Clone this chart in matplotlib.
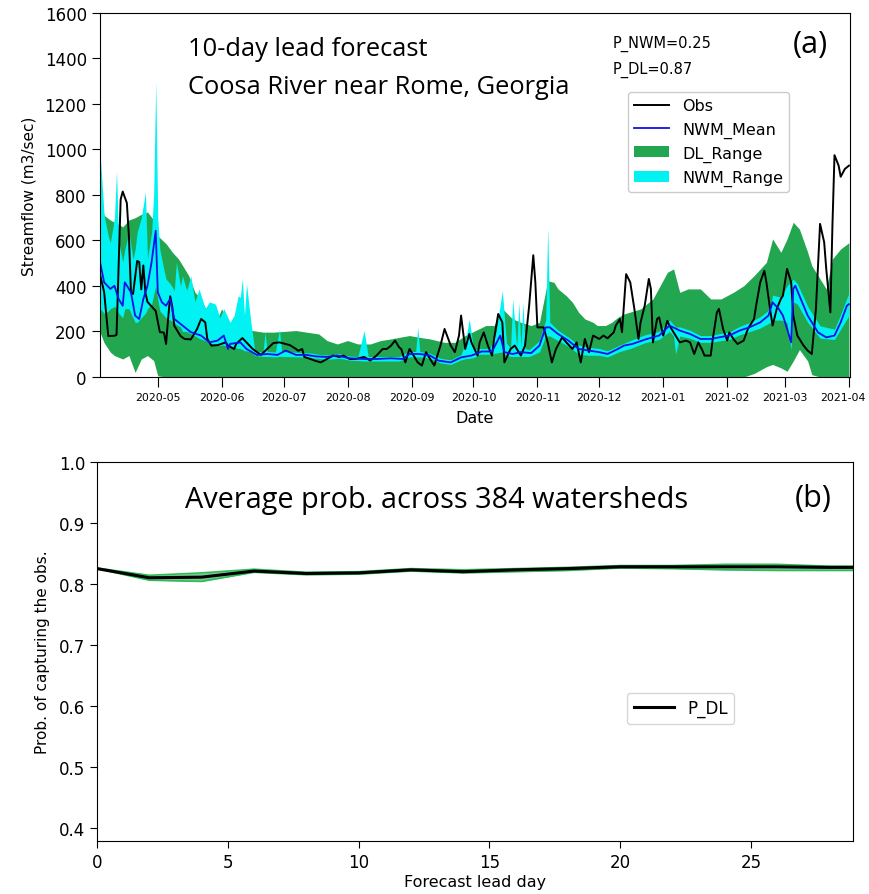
import numpy as np
import pandas as pd
import matplotlib
matplotlib.use("Agg")
import matplotlib.pyplot as plt
import matplotlib.dates as mdates
import matplotlib.transforms as mtransforms

# ---- panel (a): Coosa River near Rome, Georgia, 10-day lead ----
start = pd.Timestamp("2020-04-03")

# observed streamflow (day since start, m3/s)
obs_day = [0, 2, 4, 7, 8, 10, 11, 13, 14, 15, 16, 18, 19, 20, 21, 22, 23, 26, 27, 29,
           31, 32, 33, 34, 35, 36, 39, 41, 44, 47, 49, 51, 52, 54, 57, 61, 62, 65, 66, 69,
           71, 74, 78, 81, 84, 87, 90, 92, 95, 96, 98, 99, 102, 104, 107, 110, 113, 116, 118, 121,
           124, 128, 131, 134, 137, 139, 141, 143, 145, 146, 148, 150, 152, 154, 156, 158, 160, 162, 165, 167,
           170, 172, 174, 175, 177, 179, 180, 183, 184, 186, 188, 190, 191, 193, 195, 196, 199, 201, 204, 206,
           208, 210, 211, 212, 215, 217, 219, 221, 224, 226, 229, 231, 233, 235, 237, 239, 242, 244, 246, 249,
           250, 252, 253, 255, 257, 259, 261, 262, 264, 266, 267, 268, 270, 271, 273, 275, 276, 279, 281, 284,
           286, 288, 290, 292, 293, 296, 297, 299, 300, 302, 304, 305, 307, 309, 312, 314, 317, 318, 320, 322,
           323, 325, 326, 328, 330, 331, 333, 335, 336, 338, 341, 343, 345, 347, 349, 351, 352, 354, 355, 356,
           358, 359, 361, 363]
obs_val = [450, 373, 180, 181, 185, 780, 815, 765, 620, 370, 365, 510, 505, 385, 490, 370, 330, 300, 290, 197,
           195, 145, 255, 355, 310, 225, 180, 167, 165, 210, 255, 240, 167, 138, 140, 152, 138, 123, 145, 171,
           152, 123, 97, 123, 149, 152, 145, 140, 123, 115, 123, 88, 79, 72, 64, 79, 94, 88, 94, 79,
           79, 88, 72, 94, 123, 123, 137, 160, 130, 123, 64, 123, 94, 64, 50, 109, 79, 50, 138, 211,
           138, 109, 182, 270, 123, 189, 152, 94, 152, 196, 138, 94, 167, 277, 240, 64, 123, 138, 94, 138,
           313, 535, 416, 218, 218, 152, 64, 123, 174, 152, 123, 152, 64, 167, 109, 182, 167, 182, 170, 196,
           226, 255, 197, 452, 416, 299, 167, 240, 313, 431, 387, 152, 255, 262, 182, 247, 226, 182, 152, 160,
           152, 101, 152, 116, 94, 94, 167, 284, 299, 211, 160, 196, 167, 145, 160, 211, 255, 313, 416, 467,
           416, 284, 226, 299, 343, 357, 475, 416, 270, 182, 138, 116, 101, 299, 673, 592, 475, 284, 665, 975,
           929, 880, 914, 929]

# NWM ensemble mean
nwm_day = [0, 2, 5, 7, 9, 11, 12, 14, 15, 17, 19, 21, 23, 25, 27, 28, 30, 32, 34, 36,
           40, 44, 49, 53, 57, 60, 62, 63, 68, 71, 76, 81, 86, 90, 95, 100, 105, 110, 115, 121,
           128, 134, 141, 147, 150, 155, 160, 164, 170, 175, 180, 185, 190, 194, 196, 200, 204, 209, 213, 216,
           218, 222, 227, 232, 237, 242, 246, 251, 254, 258, 265, 271, 276, 281, 286, 291, 296, 300, 305, 310,
           315, 320, 324, 326, 329, 331, 334, 335, 336, 337, 339, 343, 348, 352, 356, 359, 362, 363]
nwm_mean = [505, 416, 387, 401, 343, 313, 416, 387, 372, 270, 255, 343, 401, 505, 643, 372, 328, 313, 343, 255,
            226, 197, 182, 152, 160, 182, 123, 145, 152, 123, 97, 101, 97, 116, 97, 97, 90, 88, 94, 82,
            79, 79, 82, 79, 101, 101, 94, 72, 64, 86, 94, 112, 112, 182, 109, 101, 109, 105, 138, 218,
            218, 189, 160, 123, 116, 109, 101, 123, 138, 145, 167, 182, 226, 204, 189, 167, 167, 174, 182, 204,
            219, 240, 270, 328, 299, 270, 182, 152, 387, 401, 357, 270, 196, 174, 182, 240, 313, 320]

# DL ensemble range
dl_day = [0, 2, 5, 7, 11, 14, 17, 20, 23, 26, 28, 32, 35, 38, 40, 43, 46, 49, 52, 56,
          59, 62, 65, 70, 74, 79, 84, 89, 95, 100, 106, 110, 115, 120, 125, 131, 136, 141, 145, 150,
          155, 160, 167, 172, 177, 182, 187, 191, 195, 200, 204, 209, 213, 217, 220, 222, 226, 229, 232, 235,
          239, 241, 245, 248, 251, 254, 262, 268, 275, 278, 281, 285, 291, 296, 301, 307, 312, 317, 323, 326,
          330, 333, 336, 339, 343, 345, 349, 352, 355, 359, 363]
dl_hi = [760, 710, 690, 680, 660, 690, 700, 715, 725, 690, 620, 586, 549, 519, 490, 445, 372, 343, 284, 240,
         300, 226, 211, 200, 204, 197, 197, 200, 204, 197, 189, 160, 145, 160, 145, 145, 160, 167, 174, 182,
         174, 167, 152, 152, 182, 204, 226, 226, 300, 255, 240, 226, 240, 423, 416, 387, 357, 328, 284, 255,
         240, 226, 226, 240, 262, 277, 299, 343, 460, 475, 372, 387, 387, 343, 343, 372, 401, 445, 504, 607,
         548, 607, 680, 650, 548, 489, 431, 387, 519, 563, 590]
dl_lo = [197, 150, 109, 94, 79, 94, 20, 79, 94, 72, 5, 0, 0, 0, 0, 0, 0, 0, 0, 0,
         0, 0, 0, 0, 0, 0, 0, 0, 0, 0, 0, 0, 0, 0, 0, 0, 0, 0, 0, 0,
         0, 0, 0, 0, 0, 0, 0, 0, 0, 0, 0, 0, 0, 0, 0, 0, 0, 0, 0, 0,
         0, 0, 0, 0, 0, 0, 0, 0, 0, 0, 0, 0, 0, 0, 0, 0, 0, 15, 45, 55,
         40, 25, 70, 120, 70, 10, 0, 0, 0, 0, 0]

# NWM ensemble range
nr_day = [0, 1, 2, 4, 5, 7, 8, 9, 11, 12, 14, 16, 17, 18, 20, 22, 23, 25, 26, 27,
          28, 29, 31, 32, 34, 36, 37, 39, 40, 42, 44, 46, 48, 51, 53, 56, 58, 60, 63, 65,
          67, 68, 69, 70, 71, 73, 75, 79, 80, 81, 85, 87, 88, 97, 102, 107, 111, 116, 121, 125,
          128, 130, 136, 145, 150, 153, 154, 155, 160, 165, 170, 175, 177, 179, 181, 184, 189, 192, 195, 197,
          199, 200, 202, 203, 204, 205, 206, 208, 213, 216, 217, 218, 222, 227, 232, 237, 242, 246, 252, 257,
          264, 271, 276, 278, 279, 281, 286, 291, 296, 300, 305, 310, 315, 320, 325, 326, 330, 333, 335, 336,
          338, 343, 349, 356, 359, 363]
nr_lo = [300, 290, 280, 290, 300, 310, 300, 280, 260, 300, 300, 260, 240, 240, 260, 280, 300, 320, 360, 400,
         340, 290, 270, 260, 250, 240, 230, 220, 200, 200, 190, 180, 170, 160, 150, 140, 140, 140, 130, 130,
         125, 125, 120, 115, 115, 110, 95, 90, 90, 90, 88, 90, 90, 88, 85, 80, 78, 82, 74, 72,
         70, 70, 70, 70, 88, 88, 88, 88, 82, 62, 55, 75, 80, 82, 85, 100, 100, 105, 110, 95,
         90, 90, 90, 90, 90, 90, 90, 90, 110, 180, 180, 180, 160, 135, 100, 95, 95, 88, 112, 125,
         150, 165, 200, 180, 100, 180, 170, 152, 152, 158, 165, 185, 200, 215, 240, 250, 250, 240, 120, 330,
         320, 240, 170, 165, 210, 270]
nr_hi = [990, 850, 710, 620, 590, 700, 905, 600, 505, 560, 636, 519, 560, 636, 700, 813, 519, 636, 800, 1298,
         694, 560, 470, 430, 410, 380, 504, 400, 444, 380, 444, 330, 387, 300, 330, 320, 260, 300, 240, 270,
         357, 350, 431, 270, 409, 250, 115, 110, 197, 112, 110, 211, 112, 108, 105, 98, 97, 102, 92, 90,
         204, 90, 90, 90, 112, 112, 218, 112, 104, 82, 75, 98, 150, 255, 120, 125, 125, 200, 379, 150,
         125, 343, 130, 328, 130, 328, 125, 120, 160, 250, 658, 240, 205, 175, 140, 130, 125, 115, 140, 160,
         185, 200, 250, 230, 220, 220, 205, 182, 182, 190, 198, 222, 240, 265, 300, 360, 350, 400, 420, 430,
         410, 310, 225, 210, 275, 370]

# ---- panel (b): average probability across 384 watersheds ----
lead_day = [0, 2, 4, 6, 8, 10, 12, 14, 16, 18, 20, 22, 24, 26, 28, 29]
p_dl = [0.825, 0.810, 0.811, 0.821, 0.817, 0.818, 0.823, 0.820, 0.823, 0.825,
        0.828, 0.828, 0.828, 0.828, 0.827, 0.827]
p_dl_lo = [0.825, 0.806, 0.804, 0.819, 0.815, 0.816, 0.821, 0.818, 0.820, 0.822,
           0.826, 0.825, 0.823, 0.822, 0.822, 0.822]
p_dl_hi = [0.826, 0.814, 0.818, 0.824, 0.819, 0.820, 0.825, 0.823, 0.825, 0.827,
           0.830, 0.830, 0.832, 0.832, 0.829, 0.829]


def to_dates(days):
    return start + pd.to_timedelta(days, unit="D")


fig = plt.figure(figsize=(8.69, 8.95), dpi=100)
ax1 = fig.add_axes([0.1151, 0.5777, 0.863, 0.4067])
ax2 = fig.add_axes([0.1116, 0.0592, 0.870, 0.4235])

green = "#22a750"
cyan = "#00f2f2"

ax1.fill_between(to_dates(dl_day), dl_lo, dl_hi, color=green, lw=0, label="DL_Range")
ax1.fill_between(to_dates(nr_day), nr_lo, nr_hi, color=cyan, lw=0, label="NWM_Range")
ax1.plot(to_dates(obs_day), obs_val, color="black", lw=1.4, label="Obs")
ax1.plot(to_dates(nwm_day), nwm_mean, color="#1010e8", lw=1.3, label="NWM_Mean")

ax1.set_ylim(0, 1600)
ax1.set_yticks(range(0, 1601, 200))
ax1.set_xlim(start, pd.Timestamp("2021-04-01 12:00"))
ax1.xaxis.set_major_locator(mdates.MonthLocator())
ax1.xaxis.set_major_formatter(mdates.DateFormatter("%Y-%m"))
ax1.tick_params(axis="x", labelsize=7.8, length=7)
ax1.tick_params(axis="y", labelsize=12, length=6)
ax1.set_xlabel("Date", fontsize=11.5, labelpad=6)
ax1.set_ylabel("Streamflow (m3/sec)", fontsize=11, labelpad=6)

# keep the last month label inside the figure
fig.canvas.draw()
last = ax1.get_xticklabels()[-1]
last.set_transform(last.get_transform() + mtransforms.ScaledTranslation(-6 / 100, 0, fig.dpi_scale_trans))

h, l = ax1.get_legend_handles_labels()
order = [2, 3, 0, 1]
ax1.legend([h[i] for i in order], [l[i] for i in order], loc="upper right",
           bbox_to_anchor=(0.93, 0.805), fontsize=11.5, handlelength=2.2, framealpha=1)

ax1.text(0.117, 0.901, "10-day lead forecast", transform=ax1.transAxes,
         fontsize=18.4, family="Open Sans", va="center")
ax1.text(0.117, 0.797, "Coosa River near Rome, Georgia", transform=ax1.transAxes,
         fontsize=18.4, family="Open Sans", va="center")
ax1.text(0.684, 0.918, "P_NWM=0.25", transform=ax1.transAxes, fontsize=10.5, va="center")
ax1.text(0.684, 0.846, "P_DL=0.87", transform=ax1.transAxes, fontsize=10.5, va="center")
ax1.text(0.947, 0.915, "(a)", transform=ax1.transAxes, fontsize=22, family="Open Sans",
         ha="center", va="center")

# panel (b)
ax2.fill_between(lead_day, p_dl_lo, p_dl_hi, color=green, alpha=0.6, lw=0)
ax2.plot(lead_day, p_dl_lo, color="#2dbb55", lw=1.2)
ax2.plot(lead_day, p_dl_hi, color="#2dbb55", lw=1.2)
ax2.plot(lead_day, p_dl, color="black", lw=2.2, label="P_DL")
ax2.set_xlim(0, 28.9)
ax2.set_ylim(0.378, 1.0)
ax2.set_yticks(np.arange(0.4, 1.01, 0.1))
ax2.tick_params(labelsize=12, length=5)
ax2.set_xlabel("Forecast lead day", fontsize=11.5, labelpad=2)
ax2.set_ylabel("Prob. of capturing the obs.", fontsize=11, labelpad=6)
ax2.legend(loc="center left", bbox_to_anchor=(0.69, 0.35), fontsize=12, handlelength=2.4)
ax2.text(0.117, 0.9, "Average prob. across 384 watersheds", transform=ax2.transAxes,
         fontsize=20.8, family="Open Sans", va="center")
ax2.text(0.947, 0.905, "(b)", transform=ax2.transAxes, fontsize=22, family="Open Sans",
         ha="center", va="center")

fig.savefig("out.png", dpi=100)
